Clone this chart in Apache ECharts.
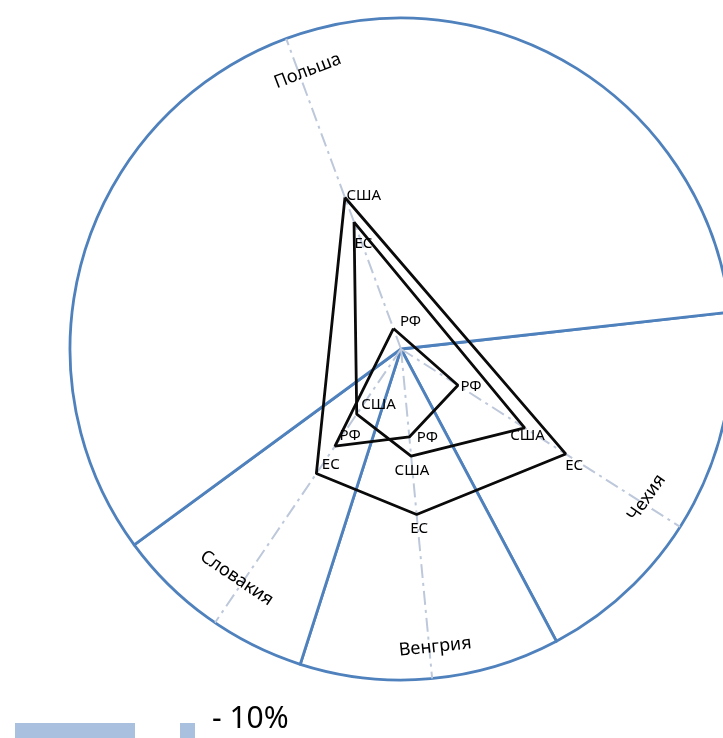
<!DOCTYPE html>
<html><head><meta charset="utf-8">
<script src="https://cdn.jsdelivr.net/npm/echarts@6/dist/echarts.min.js"></script>
<style>html,body{margin:0;padding:0;background:#fff}#c{width:723px;height:738px}</style>
</head><body><div id="c"></div>
<script>
// ---- data ----
const axes = ['Польша', 'Чехия', 'Венгрия', 'Словакия'];
const axisAngles = [110.3, 327.5, 275.4, 235.8];      // direction of each axis (deg, counter-clockwise from east)
const outerValues = [48.8, 59.0, 50.2, 45.5];
const outerLabels = ['США', 'ЕС', 'ЕС', 'ЕС'];
const middleValues = [40.9, 44.3, 32.5, 23.8];
const middleLabels = ['ЕС', 'США', 'США', 'США'];
const rfValues = [6.6, 20.4, 26.7, 35.5];
const rfLabels = ['РФ', 'РФ', 'РФ', 'РФ'];
const sectorValues = [19.0, 12.7, 10.0, 58.3];
const legendText = '- 10%';

// ---- styling / layout ----
const CENTER = [401, 349], RADIUS = 331;
const BLUE = '#4f81bd';
const nameRadius = [87.3, 89.7, 90.9, 86.7];
const nameOffset = [[9, -4], [6, -10], [6, -1], [-7, -5]];
const nameRotate = [21, 55, 6, -34];
const outerOff = [[1, -2], [-1, 12], [-7, 14], [5, -9]];
const middleOff = [[0, 22], [-15, 8], [-17, 15], [4, -9]];
const rfOff = [[6, -7], [2, 1], [7, 1], [4, -10]];
const FONT = 'Noto Sans';
const labelBase = { show: true, color: '#000', fontSize: 15, fontFamily: FONT, position: 'right', distance: 0 };

function polygon(name, values, labels, offs) {
  const pts = values.map((v, i) => ({
    value: [v, axisAngles[i]],
    label: Object.assign({}, labelBase, { formatter: labels[i], offset: offs[i] })
  }));
  pts.push({ value: [values[0], axisAngles[0]], label: { show: false } });
  return {
    type: 'line', name, coordinateSystem: 'polar', data: pts, symbol: 'circle', symbolSize: 1,
    showSymbol: true, showAllSymbol: true, z: 5, silent: true, animation: false,
    itemStyle: { color: 'rgba(0,0,0,0)' },
    lineStyle: { color: '#0a0a0a', width: 2.8 },
    label: labelBase
  };
}

const axisSeries = axisAngles.map((a, i) => ({
  type: 'line', name: 'axis' + i, coordinateSystem: 'polar', symbol: 'none', silent: true, animation: false, z: 3,
  data: [[0, a], [100, a]],
  lineStyle: { color: '#bdc8db', width: 2, type: [14, 5, 3, 5] }
}));

const nameLabel = { show: true, position: 'inside', color: '#000', fontSize: 18, fontFamily: FONT, align: 'center', verticalAlign: 'middle', textBorderWidth: 0 };

const option = {
  backgroundColor: '#fff',
  animation: false,
  polar: { center: CENTER, radius: RADIUS },
  angleAxis: { type: 'value', min: 0, max: 360, startAngle: 0, clockwise: false, show: false },
  radiusAxis: { type: 'value', min: 0, max: 100, show: false },
  series: [
    {
      type: 'pie', center: CENTER, radius: RADIUS, startAngle: 6.4, clockwise: true, z: 1, silent: true,
      animation: false, label: { show: false }, labelLine: { show: false },
      itemStyle: { color: '#ffffff', borderColor: BLUE, borderWidth: 2.8 },
      emphasis: { disabled: true },
      data: sectorValues.map((v, i) => ({ value: v, name: 's' + i }))
    },
    ...axisSeries,
    polygon('ЕС', outerValues, outerLabels, outerOff),
    polygon('США', middleValues, middleLabels, middleOff),
    polygon('РФ', rfValues, rfLabels, rfOff),
    {
      type: 'scatter', coordinateSystem: 'polar', symbolSize: 1, silent: true, z: 6,
      itemStyle: { color: '#ffffff', opacity: 1 },
      data: axes.map((n, i) => ({
        value: [nameRadius[i], axisAngles[i]], name: n,
        label: Object.assign({}, nameLabel, { formatter: n, rotate: nameRotate[i], offset: nameOffset[i] })
      })),
      label: nameLabel
    }
  ],
  graphic: [
    { type: 'rect', left: 15, top: 723, shape: { width: 120, height: 16 }, style: { fill: '#a9c0df' } },
    { type: 'rect', left: 180, top: 723, shape: { width: 15, height: 16 }, style: { fill: '#a9c0df' } },
    { type: 'text', left: 212, top: 704, style: { text: legendText, fontSize: 30, fontFamily: FONT, fill: '#000' } }
  ]
};
const chart = echarts.init(document.getElementById('c'), null, { renderer: 'canvas' });
chart.setOption(option);
</script></body></html>
